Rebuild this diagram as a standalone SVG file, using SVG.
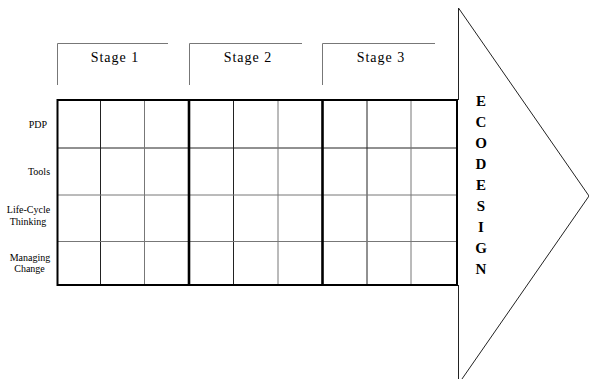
<svg xmlns="http://www.w3.org/2000/svg" width="589" height="379" viewBox="0 0 589 379">
<style>
.thin{stroke:#222;stroke-width:1;fill:none}
.gray{stroke:#777;stroke-width:1;fill:none}
.thick{stroke:#000;stroke-width:2;fill:none}
.div{stroke:#000;stroke-width:2.6;fill:none}
.stage{font-family:"Liberation Serif",serif;font-size:14px;letter-spacing:1px;fill:#000;text-anchor:middle}
.row{font-family:"Liberation Serif",serif;font-size:10px;fill:#000;text-anchor:middle}
.eco{font-family:"Liberation Serif",serif;font-size:15px;font-weight:bold;fill:#000;text-anchor:middle}
</style>
<rect width="589" height="379" fill="#fff"/>
<g id="arrow">
<polyline class="thin" points="458.5,8 589,196 458.5,384"/>
<line class="thin" x1="458.5" y1="8" x2="458.5" y2="100"/>
<line class="thin" x1="458.5" y1="285" x2="458.5" y2="384"/>
<g class="eco">
<text x="481" y="106">E</text>
<text x="481" y="127">C</text>
<text x="481" y="148">O</text>
<text x="481" y="169">D</text>
<text x="481" y="190">E</text>
<text x="481" y="211">S</text>
<text x="481" y="232">I</text>
<text x="481" y="253">G</text>
<text x="481" y="274">N</text>
</g>
</g>
<g id="stage1">
<polyline class="gray" points="57.5,85 57.5,43.5 168,43.5"/>
<text class="stage" x="115" y="62">Stage 1</text>
</g>
<g id="stage2">
<polyline class="gray" points="189.5,85 189.5,43.5 302,43.5"/>
<text class="stage" x="248" y="62">Stage 2</text>
</g>
<g id="stage3">
<polyline class="gray" points="322.5,85 322.5,43.5 435,43.5"/>
<text class="stage" x="381" y="62">Stage 3</text>
</g>
<g id="grid">
<g class="thin">
<line x1="100.5" y1="100" x2="100.5" y2="285"/>
<line x1="233.5" y1="100" x2="233.5" y2="285"/>
<line x1="367" y1="100" x2="367" y2="285"/>
<line x1="57" y1="148" x2="457" y2="148"/>
</g>
<g class="gray">
<line x1="144.5" y1="100" x2="144.5" y2="285"/>
<line x1="278" y1="100" x2="278" y2="285"/>
<line x1="411" y1="100" x2="411" y2="285"/>
<line x1="57" y1="195" x2="457" y2="195"/>
<line x1="57" y1="241.5" x2="457" y2="241.5"/>
</g>
<line class="div" x1="189" y1="100" x2="189" y2="285"/>
<line class="div" x1="322.5" y1="100" x2="322.5" y2="285"/>
<rect class="thick" x="57.5" y="100" width="399.5" height="185"/>
</g>
<g id="labels" class="row">
<text x="38" y="128">PDP</text>
<text x="39" y="175">Tools</text>
<text x="28.5" y="213">Life-Cycle</text>
<text x="28" y="225">Thinking</text>
<text x="30" y="261">Managing</text>
<text x="29.5" y="272">Change</text>
</g>
</svg>
